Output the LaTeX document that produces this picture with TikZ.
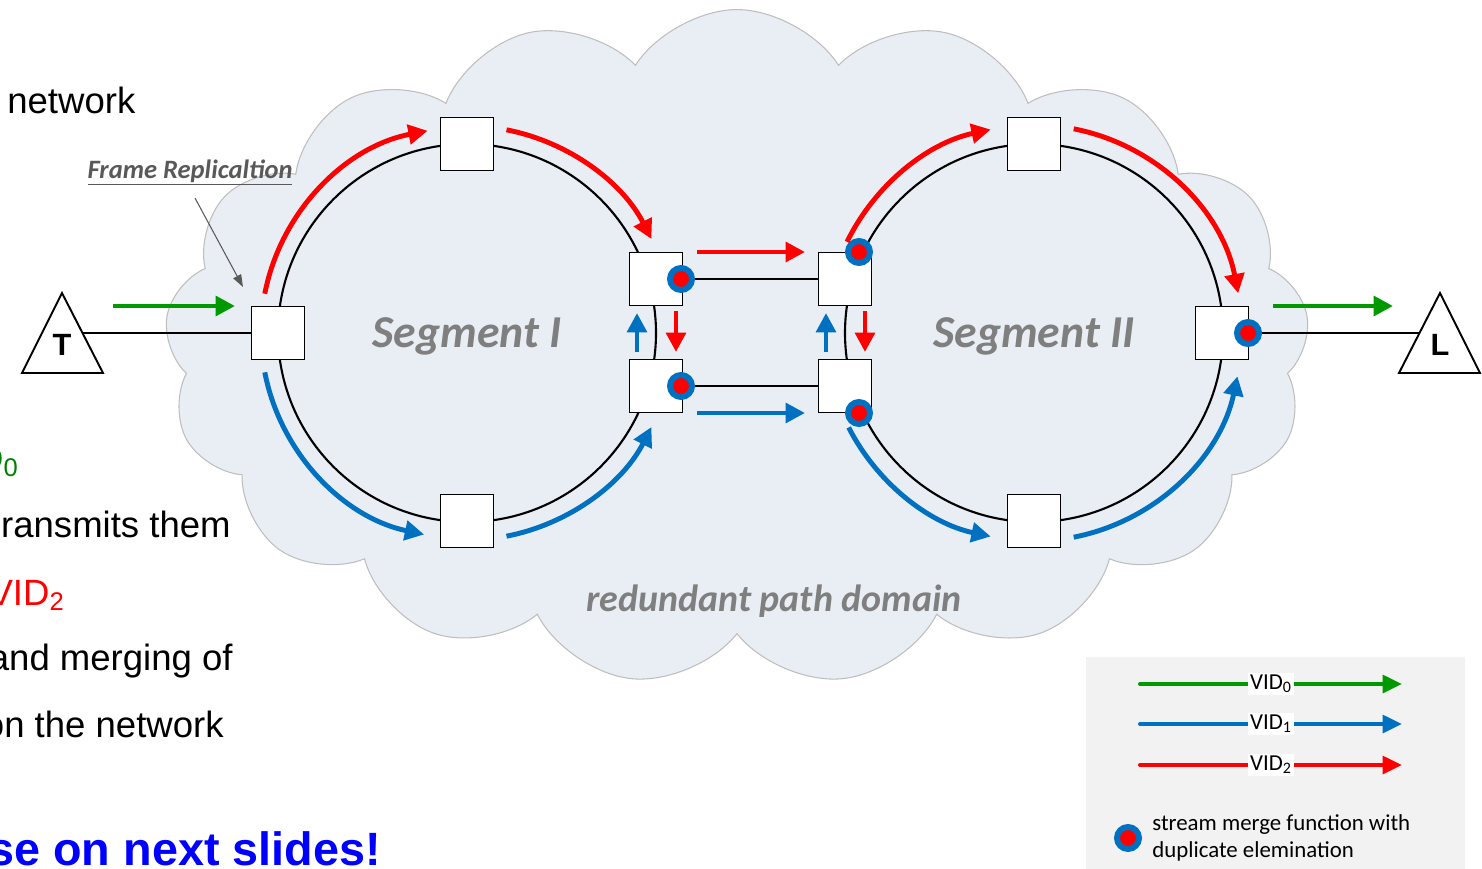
\documentclass[tikz,border=0pt]{standalone}
\usepackage{fontspec}
\setmainfont{Liberation Sans}
\newfontfamily\calibri{Carlito}
\usetikzlibrary{arrows.meta,shapes.symbols,calc}
\definecolor{cloudfill}{RGB}{233,237,244}
\definecolor{cloudline}{RGB}{190,190,190}
\definecolor{vidblue}{RGB}{0,112,192}
\definecolor{vidgreen}{RGB}{0,153,0}
\definecolor{txtgreen}{RGB}{0,128,0}
\definecolor{seggray}{RGB}{127,127,127}
\definecolor{notegray}{RGB}{89,89,89}
\definecolor{legendfill}{RGB}{242,242,242}
\tikzset{
  bridge/.style={draw, line width=1.1pt, fill=white, minimum size=1.06cm, inner sep=0pt},
  link/.style={line width=1.2pt},
  merge/.style={circle, fill=red, draw=vidblue, line width=3.4pt, minimum size=0.44cm, inner sep=0pt},
  flow/.style={line width=2.8pt, -{Triangle[length=11pt,width=11pt]}},
  keyflow/.style={line width=2.3pt, line cap=round, -{Triangle[length=11pt,width=10pt]}},
  slidetext/.style={inner sep=0pt, font=\fontsize{20.8}{25}\selectfont},
  segtext/.style={inner sep=0pt, text=seggray, font=\calibri\bfseries\itshape\fontsize{26}{30}\selectfont},
  keytext/.style={inner sep=1pt, fill=white, font=\calibri\fontsize{13}{15}\selectfont},
  endpoint/.style={draw, line width=1.1pt, fill=white, line join=miter}
}
\begin{document}
\begin{tikzpicture}[x=0.02cm, y=0.02cm]
  \useasboundingbox (0,0) rectangle (1482,-869);

  \node[slidetext, anchor=base west] at (7,-113) {network};
  \node[slidetext, text=txtgreen, anchor=base east] at (19,-471) {D\textsubscript{0}};
  \node[slidetext, anchor=base east] at (231,-537) {ransmits them};
  \node[slidetext, text=red, anchor=base east] at (65,-605) {VID\textsubscript{2}};
  \node[slidetext, anchor=base east] at (233,-670) {and merging of};
  \node[slidetext, anchor=base east] at (224,-737) {on the network};
  \node[inner sep=0pt, text=blue, font=\bfseries\fontsize{26.6}{31}\selectfont, anchor=base east] at (381,-865) {se on next slides!};

  \node[cloud, cloud puffs=17, cloud puff arc=115, aspect=1.7, fill=cloudfill, draw=cloudline, line width=0.6pt, minimum width=22.9cm, minimum height=13.5cm] (domain) at (737,-347) {};

  \coordinate (segI) at (467,-333);
  \coordinate (segII) at (1034,-333);
  \draw[link] (segI) circle[radius=189];
  \draw[link] (segII) circle[radius=189];

  \node[bridge] (sA) at (278,-333) {};
  \node[bridge] (sB) at (467,-144) {};
  \node[bridge] (sC) at (467,-521) {};
  \node[bridge] (sD) at (656,-279) {};
  \node[bridge] (sE) at (656,-386) {};
  \node[bridge] (sF) at (845,-279) {};
  \node[bridge] (sG) at (845,-386) {};
  \node[bridge] (sH) at (1034,-144) {};
  \node[bridge] (sJ) at (1034,-521) {};
  \node[bridge] (sK) at (1222,-333) {};

  \draw[link] (sD) -- (sF);
  \draw[link] (sE) -- (sG);

  \draw[endpoint] (22,-373) -- (103,-373) -- (62,-293) -- cycle;
  \node[font=\bfseries\fontsize{17.5}{20}\selectfont] (talker) at (62,-345) {T};
  \coordinate (tport) at (83,-333);
  \draw[link] (tport) -- (sA);
  \draw[endpoint] (1399,-373) -- (1480,-373) -- (1440,-293) -- cycle;
  \node[font=\bfseries\fontsize{17.5}{20}\selectfont] (listener) at (1440,-345) {L};
  \coordinate (lport) at (1419,-333);
  \draw[link] (sK) -- (lport);

  \node[merge] (mD) at (681,-279) {};
  \node[merge] (mE) at (681,-386) {};
  \node[merge] (mF) at (859,-252) {};
  \node[merge] (mG) at (859,-413) {};
  \node[merge] (mK) at (1248,-333) {};

  \draw[flow, vidgreen] (113,-306) -- (235,-306);
  \draw[flow, vidgreen] (1273,-306) -- (1393,-306);

  \draw[flow, red] ($(segI)+(169:206)$) arc[start angle=169, end angle=101, radius=206];
  \draw[flow, red] ($(segI)+(79:207)$) arc[start angle=79, end angle=27, radius=207];
  \draw[flow, vidblue] ($(segI)+(191:206)$) arc[start angle=191, end angle=258, radius=206];
  \draw[flow, vidblue] ($(segI)+(281:207)$) arc[start angle=281, end angle=333, radius=207];
  \draw[flow, red] ($(segII)+(154:208)$) arc[start angle=154, end angle=102, radius=208];
  \draw[flow, red] ($(segII)+(79:208)$) arc[start angle=79, end angle=11, radius=208];
  \draw[flow, vidblue] ($(segII)+(207:208)$) arc[start angle=207, end angle=258, radius=208];
  \draw[flow, vidblue] ($(segII)+(281:208)$) arc[start angle=281, end angle=348, radius=208];

  \draw[flow, red] (697,-252) -- (805,-252);
  \draw[flow, vidblue] (697,-413) -- (805,-413);
  \draw[flow, vidblue] (637,-352) -- (637,-313);
  \draw[flow, red] (676,-311) -- (676,-352);
  \draw[flow, vidblue] (826,-352) -- (826,-313);
  \draw[flow, red] (865,-311) -- (865,-352);

  \node[segtext, anchor=base] at (467,-347) {Segment I};
  \node[segtext, anchor=base] at (1034,-347) {Segment II};
  \node[segtext, anchor=base, font=\calibri\bfseries\itshape\fontsize{21.6}{26}\selectfont] at (774,-611) {redundant path domain};

  \node[inner sep=0pt, text=notegray, font=\calibri\bfseries\itshape\fontsize{15.1}{18}\selectfont, anchor=base] (note) at (190,-178) {\underline{Frame Replicaltion}};
  \coordinate (notetip) at (243,-287);
  \draw[notegray, line width=0.6pt, -{Triangle[length=7pt,width=5pt]}] (195,-198) -- (notetip);

  \fill[legendfill] (1086,-657) rectangle (1465,-869);
  \draw[keyflow, vidgreen] (1140,-684) -- (1402,-684);
  \draw[keyflow, vidblue] (1140,-724) -- (1402,-724);
  \draw[keyflow, red] (1140,-765) -- (1402,-765);
  \node[keytext] at (1271,-684) {VID\textsubscript{0}};
  \node[keytext] at (1271,-724) {VID\textsubscript{1}};
  \node[keytext] at (1271,-765) {VID\textsubscript{2}};
  \node[merge] (mkey) at (1128,-838) {};
  \node[inner sep=0pt, align=left, anchor=west, font=\calibri\fontsize{13}{15.3}\selectfont] at (1152,-838) {stream merge function with\\duplicate elemination};
\end{tikzpicture}
\end{document}
